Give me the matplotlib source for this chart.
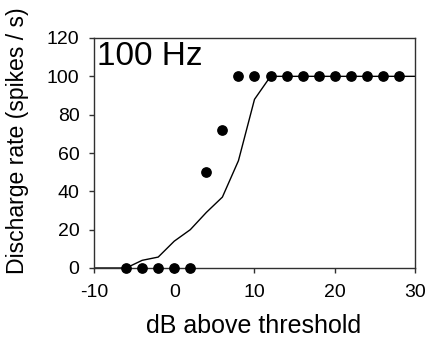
import numpy as np
import matplotlib
matplotlib.use('Agg')
import matplotlib.pyplot as plt

plt.rcParams['font.family'] = ['Liberation Sans', 'DejaVu Sans']
plt.rcParams['axes.unicode_minus'] = False

# measured spike rates (dots)
dot_db = [-6, -4, -2, 0, 2, 4, 6, 8, 10, 12, 14, 16, 18, 20, 22, 24, 26, 28]
dot_rate = [0, 0, 0, 0, 0, 50, 72, 100, 100, 100, 100, 100, 100, 100, 100, 100, 100, 100]

# model curve (line)
line_db = [-10, -8, -6, -4, -2, 0, 2, 4, 6, 8, 10, 12, 14, 16, 18, 20, 22, 24, 26, 28, 30]
line_rate = [0, 0, 0, 4, 5.7, 14, 20, 29, 37, 56, 88, 100, 100, 100, 100, 100, 100, 100, 100, 100, 100]

x_ticks = [-10, 0, 10, 20, 30]
y_ticks = [0, 20, 40, 60, 80, 100, 120]

fig = plt.figure(figsize=(4.27, 3.47), dpi=100)
ax = fig.add_axes([94/427, 1 - 268/347, (415-94)/427, (268-38)/347])

ax.plot(line_db, line_rate, color='black', lw=1.0, zorder=2)
ax.scatter(dot_db, dot_rate, s=45, color='black', zorder=3, clip_on=False)

ax.set_xlim(-10, 30)
ax.set_ylim(0, 120)
ax.set_xticks(x_ticks)
ax.set_yticks(y_ticks)
for s in ax.spines.values():
    s.set_color('#303030')
    s.set_linewidth(1.0)
ax.tick_params(direction='out', length=3.5, width=1, color='#303030', labelsize=14)
ax.tick_params(axis='x', pad=8)
ax.tick_params(axis='y', pad=7)

ax.set_xlabel('dB above threshold', fontsize=18)
ax.set_ylabel('Discharge rate (spikes / s)', fontsize=16.6)
ax.xaxis.set_label_coords(0.498, -0.2)
ax.yaxis.set_label_coords(-0.201, 0.552)
ax.text(0.008, 0.987, '100 Hz', transform=ax.transAxes, fontsize=24, va='top', ha='left')

fig.savefig('out.png', dpi=100)
